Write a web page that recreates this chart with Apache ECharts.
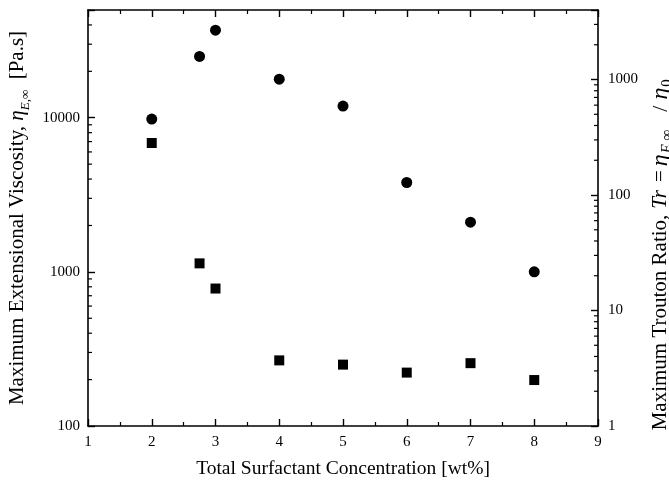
<!DOCTYPE html>
<html>
<head>
<meta charset="utf-8">
<script src="https://cdn.jsdelivr.net/npm/echarts@6/dist/echarts.min.js"></script>
<style>html,body{margin:0;padding:0;background:#fff}#c{width:669px;height:483px}</style>
</head>
<body>
<div id="c"></div>
<script>
// Data
const concentration = [2, 2.75, 3, 4, 5, 6, 7, 8];
const extViscosity = [9800, 25000, 37000, 17800, 11900, 3800, 2100, 1000];
const troutonRatio = [282, 25.6, 15.5, 3.7, 3.4, 2.9, 3.5, 2.5];
const xTicks = [1, 2, 3, 4, 5, 6, 7, 8, 9];
const leftTicks = [100, 1000, 10000];
const rightTicks = [1, 10, 100, 1000];
const leftMinorTicks = [200, 300, 400, 500, 600, 700, 800, 900,
  2000, 3000, 4000, 5000, 6000, 7000, 8000, 9000, 20000, 30000, 40000];
const rightMinorTicks = [2, 3, 4, 5, 6, 7, 8, 9, 20, 30, 40, 50, 60, 70, 80, 90,
  200, 300, 400, 500, 600, 700, 800, 900, 2000, 3000];

const FONT = 'Liberation Serif';
const chart = echarts.init(document.getElementById('c'));

const axisLine = { show: true, lineStyle: { color: '#000', width: 1.6 } };
const majorTick = { show: true, inside: true, length: 7, lineStyle: { color: '#000', width: 1.4 } };

function isPow10(v) { const l = Math.log10(v); return Math.abs(l - Math.round(l)) < 1e-6; }

const LH = 28;
const richStyles = {
  a: { fontFamily: FONT, fontSize: 21, color: '#000', lineHeight: LH },
  b: { fontFamily: FONT, fontSize: 21, fontStyle: 'italic', color: '#000', lineHeight: LH },
  c: { fontFamily: FONT, fontSize: 13, fontStyle: 'italic', color: '#000', lineHeight: LH, verticalAlign: 'bottom' },
  tr: { fontFamily: FONT, fontSize: 21, fontStyle: 'italic', color: '#000', lineHeight: LH, padding: [0, 8, 0, 6] },
  eq: { fontFamily: FONT, fontSize: 21, color: '#000', lineHeight: LH, padding: [0, 4, 0, 0] },
  et: { fontFamily: FONT, fontSize: 24, fontStyle: 'italic', color: '#000', lineHeight: LH },
  sE: { fontFamily: FONT, fontSize: 15, fontStyle: 'italic', color: '#000', lineHeight: LH, verticalAlign: 'bottom', padding: [0, 18, 0, 1] },
  sl: { fontFamily: FONT, fontSize: 22, color: '#000', lineHeight: LH, padding: [0, 6, 0, 0] },
  s0: { fontFamily: FONT, fontSize: 15, color: '#000', lineHeight: LH, verticalAlign: 'bottom', padding: [0, 0, 0, 1] }
};

function minorTickSeries(yIndex, values, side) {
  return {
    type: 'custom', xAxisIndex: 0, yAxisIndex: yIndex, silent: true, clip: false,
    data: values.map(v => [side === 'left' ? 1 : 9, v]),
    renderItem: function (params, api) {
      const p = api.coord([api.value(0), api.value(1)]);
      const dx = side === 'left' ? 4 : -4;
      return {
        type: 'line',
        shape: { x1: p[0], y1: p[1], x2: p[0] + dx, y2: p[1] },
        style: { stroke: '#000', lineWidth: 1.2 }
      };
    },
    z: 3
  };
}

chart.setOption({
  animation: false,
  backgroundColor: '#fff',
  grid: { left: 88, right: 71, top: 10, bottom: 57, containLabel: false, outerBoundsMode: 'none' },
  xAxis: [{
    type: 'value', min: 1, max: 9, interval: 1, position: 'bottom',
    name: 'Total Surfactant Concentration [wt%]', nameLocation: 'middle', nameGap: 33,
    nameTextStyle: { fontFamily: FONT, fontSize: 19.5, color: '#000' },
    axisLine: axisLine, axisTick: majorTick,
    minorTick: { show: true, splitNumber: 2, length: 4, lineStyle: { color: '#000', width: 1.2 } },
    axisLabel: { fontFamily: FONT, fontSize: 15, color: '#000', margin: 9,
      formatter: v => xTicks.includes(v) ? String(v) : '' },
    splitLine: { show: false }
  }, {
    type: 'value', min: 1, max: 9, interval: 1, position: 'top',
    axisLine: axisLine, axisTick: majorTick,
    minorTick: { show: true, splitNumber: 2, length: 4, lineStyle: { color: '#000', width: 1.2 } },
    axisLabel: { show: false }, splitLine: { show: false }
  }],
  yAxis: [{
    type: 'log', min: 100, max: 50000, position: 'left',
    name: '{a|Maximum Extensional Viscosity, }{b|η}{c|E,∞}{a|  [Pa.s]}',
    nameLocation: 'middle', nameGap: 52, nameRotate: 90,
    nameTextStyle: { fontFamily: FONT, fontSize: 21, color: '#000', rich: richStyles },
    axisLine: axisLine, axisTick: majorTick,
    axisLabel: { fontFamily: FONT, fontSize: 15, color: '#000', margin: 8,
      formatter: v => (isPow10(v) && leftTicks.includes(Math.round(v))) ? String(Math.round(v)) : '' },
    splitLine: { show: false }
  }, {
    type: 'log', min: 1, max: 4000, position: 'right',
    name: '{a|Maximum Trouton Ratio,}{tr|Tr}{eq|=}{et|η}{sE|E,∞}{sl|/}{et|η}{s0|0}{a|\u00a0\u00a0\u00a0\u00a0\u00a0\u00a0\u00a0\u00a0\u00a0\u00a0\u00a0\u00a0\u00a0\u00a0}',
    nameLocation: 'middle', nameGap: 38, nameRotate: 90,
    nameTextStyle: { fontFamily: FONT, fontSize: 21, color: '#000', rich: richStyles },
    axisLine: axisLine, axisTick: majorTick,
    axisLabel: { fontFamily: FONT, fontSize: 15, color: '#000', margin: 10,
      formatter: v => (isPow10(v) && rightTicks.includes(Math.round(v))) ? String(Math.round(v)) : '' },
    splitLine: { show: false }
  }],
  series: [{
    type: 'scatter', xAxisIndex: 0, yAxisIndex: 0,
    symbol: 'circle', symbolSize: 11,
    itemStyle: { color: '#000', opacity: 1 },
    data: concentration.map((x, i) => [x, extViscosity[i]])
  }, {
    type: 'scatter', xAxisIndex: 0, yAxisIndex: 1,
    symbol: 'rect', symbolSize: 10,
    itemStyle: { color: '#000', opacity: 1 },
    data: concentration.map((x, i) => [x, troutonRatio[i]])
  },
  minorTickSeries(0, leftMinorTicks, 'left'),
  minorTickSeries(1, rightMinorTicks, 'right')]
});
</script>
</body>
</html>
